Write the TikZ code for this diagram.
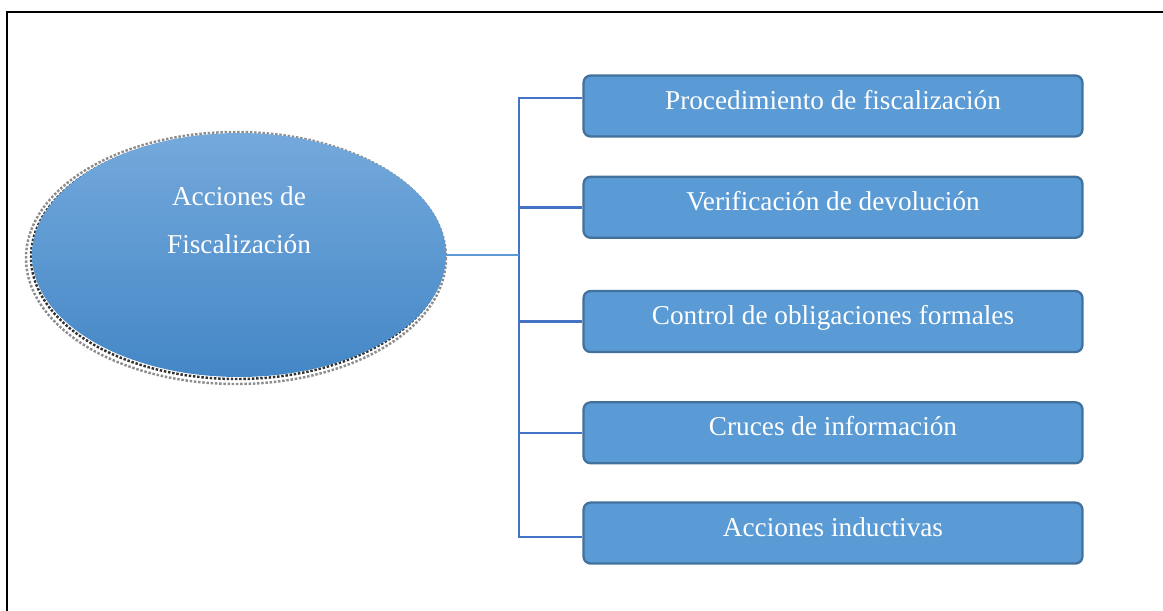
\documentclass[tikz,border=0pt]{standalone}
\usepackage{fontspec}
\setmainfont{Liberation Serif}
\usetikzlibrary{
        positioning,
        shapes,
        shapes.geometric
    }
\definecolor{boxblue}{HTML}{5B9BD5}
\definecolor{boxedge}{HTML}{41719C}
\definecolor{linkblue}{HTML}{4472C4}
\definecolor{elltop}{HTML}{74A9DC}
\definecolor{ellbot}{HTML}{4487C6}
\tikzset{
    action/.style={rectangle,rounded corners=4pt,fill=boxblue,draw=boxedge,line width=1.3pt,
        minimum width=9.98cm,minimum height=1.22cm,text=white,
        text height=11pt,text depth=7.4pt,
        font=\fontsize{15.5}{18}\selectfont},
    branch/.style={draw=linkblue,line width=1.4pt},
    stem/.style={draw=boxblue,line width=1.1pt},
    halo/.style={densely dotted,line width=1.4pt}
}

\begin{document}
\begin{tikzpicture}[x=0.02cm,y=-0.02cm]
                \useasboundingbox (0,0) rectangle (1163,610);
                \clip (0,0) rectangle (1163,610);
                \draw[line width=1pt] (7,12) rectangle (1180,640);
                % shadow and root
                \draw[halo,black!45] (236,258) ellipse [x radius=210, y radius=126];
                \draw[halo,black!80] (237,257) ellipse [x radius=206, y radius=122];
                \node[ellipse,shading=axis,top color=elltop,bottom color=ellbot,
                      minimum width=8.28cm,minimum height=4.88cm] (ell) at (239,255) {};
                \node[text=white,align=center,font=\fontsize{15.5}{27}\selectfont]
                      (elltxt) at ([yshift=0.7cm]ell.center) {Acciones de\\Fiscalización};
                % actions
                \node[action] (b1) at (833,106) {Procedimiento de fiscalización};
                \node[action] (b2) [below=0.76cm of b1] {Verificación de devolución};
                \node[action] (b3) [below=1.02cm of b2] {Control de obligaciones formales};
                \node[action] (b4) [below=0.96cm of b3] {Cruces de información};
                \node[action] (b5) [below=0.74cm of b4] {Acciones inductivas};
                \coordinate (tr) at (519,0);
                \coordinate (j1) at ([yshift=0.16cm]b1.west);
                \coordinate (j5) at ([yshift=-0.08cm]b5.west);
                \draw[branch] (j1) -- (tr |- j1) -- (tr |- j5) -- (j5);
                \foreach \b in {b2,b3,b4}
                    \draw[branch] (tr |- \b.west) -- (\b.west);
                \draw[stem] (ell.east) -- (tr |- ell.east);
            \end{tikzpicture}
\end{document}
